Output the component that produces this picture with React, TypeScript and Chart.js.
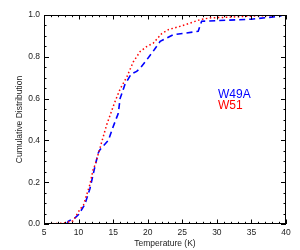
import React, { useEffect, useRef } from "react";
import { Chart, registerables } from "chart.js";

Chart.register(...registerables);

const w51Temp = [5.0, 6.5, 7.8, 9.2, 10.2, 10.7, 11.65, 12.1, 12.4, 13.1, 14.07, 15.2, 16.0, 17.0, 17.9, 18.9, 19.9, 20.8, 22.0, 23.0, 24.7, 26.0, 27.6, 29.0, 32.0, 35.0, 38.0, 40.0];
const w51Cum = [0.0, 0.002, 0.004, 0.015, 0.07, 0.09, 0.19, 0.26, 0.284, 0.364, 0.475, 0.58, 0.645, 0.705, 0.775, 0.825, 0.85, 0.865, 0.91, 0.93, 0.946, 0.96, 0.978, 0.986, 0.99, 0.995, 0.998, 1.0];

const w49aTemp = [8.3, 8.5, 9.5, 10.0, 10.9, 11.65, 12.4, 12.85, 13.1, 14.3, 15.0, 15.4, 15.75, 16.0, 16.7, 17.6, 18.4, 18.9, 19.85, 20.8, 21.8, 23.7, 25.6, 27.3, 27.8, 30.0, 35.0, 39.1, 39.5];
const w49aCum = [0.0, 0.013, 0.03, 0.045, 0.093, 0.17, 0.28, 0.34, 0.356, 0.40, 0.465, 0.50, 0.53, 0.60, 0.667, 0.717, 0.73, 0.745, 0.785, 0.827, 0.874, 0.906, 0.914, 0.922, 0.97, 0.973, 0.98, 0.994, 1.0];

const seriesNames = ["W49A", "W51"];
const xMin = 5;
const xMax = 40;
const xStep = 5;
const yMin = 0;
const yMax = 1;
const yStep = 0.2;

const FONT = '"Liberation Sans", Arial, sans-serif';

const framePlugin = {
  id: "frameTicks",
  afterDraw(chart: any) {
    const { ctx, chartArea } = chart;
    const { left, right, top, bottom } = chartArea;
    const xs = chart.scales.x;
    const ys = chart.scales.y;
    ctx.save();
    ctx.strokeStyle = "#000";
    ctx.lineWidth = 1;
    ctx.strokeRect(left + 0.5, top + 0.5, right - left - 1, bottom - top - 1);
    ctx.beginPath();
    for (let v = xMin; v <= xMax; v += 1) {
      const major = (v - xMin) % xStep === 0;
      const len = major ? 4.5 : 2.2;
      const px = Math.round(xs.getPixelForValue(v)) + 0.5;
      ctx.moveTo(px, bottom);
      ctx.lineTo(px, bottom - len);
      ctx.moveTo(px, top);
      ctx.lineTo(px, top + len);
    }
    for (let i = 0; i <= 20; i++) {
      const v = yMin + i * 0.05;
      const major = i % 4 === 0;
      const len = major ? 5 : 2.5;
      const py = Math.round(ys.getPixelForValue(v)) + 0.5;
      ctx.moveTo(left, py);
      ctx.lineTo(left + len, py);
      ctx.moveTo(right, py);
      ctx.lineTo(right - len, py);
    }
    ctx.stroke();

    ctx.font = `12px ${FONT}`;
    ctx.textBaseline = "alphabetic";
    ctx.textAlign = "left";
    ctx.fillStyle = "#0000ff";
    ctx.fillText(seriesNames[0], left + 174, top + 83);
    ctx.fillStyle = "#ff0000";
    ctx.fillText(seriesNames[1], left + 174, top + 94);
    ctx.restore();
  },
};

export default function App() {
  const ref = useRef<HTMLCanvasElement | null>(null);
  useEffect(() => {
    if (!ref.current) return;
    const chart = new Chart(ref.current, {
      type: "line",
      data: {
        datasets: [
          {
            label: seriesNames[1],
            data: w51Temp.map((t, i) => ({ x: t, y: w51Cum[i] })),
            borderColor: "#ff0000",
            borderWidth: 1.5,
            borderDash: [1.5, 2.5],
            pointRadius: 0,
            tension: 0,
            fill: false,
          },
          {
            label: seriesNames[0],
            data: w49aTemp.map((t, i) => ({ x: t, y: w49aCum[i] })),
            borderColor: "#0000ff",
            borderWidth: 1.6,
            borderDash: [6, 4],
            pointRadius: 0,
            tension: 0,
            fill: false,
          },
        ],
      },
      options: {
        animation: false,
        responsive: true,
        maintainAspectRatio: false,
        layout: { padding: { left: 0, right: 14, top: 15, bottom: 0 } },
        plugins: { legend: { display: false }, tooltip: { enabled: false } },
        scales: {
          x: {
            type: "linear",
            min: xMin,
            max: xMax,
            grid: { display: false, drawTicks: false },
            border: { display: false },
            ticks: {
              stepSize: xStep,
              padding: 4,
              color: "#222",
              font: { family: FONT, size: 8.5 },
              maxRotation: 0,
              callback: (v: any) => String(v),
            },
            title: {
              display: true,
              text: "Temperature (K)",
              color: "#222",
              font: { family: FONT, size: 8.5 },
              padding: { top: 0, bottom: 1.5 },
            },
            afterFit: (s: any) => {
              s.height = 26;
            },
          },
          y: {
            type: "linear",
            min: yMin,
            max: yMax,
            grid: { display: false, drawTicks: false },
            border: { display: false },
            ticks: {
              stepSize: yStep,
              padding: 4,
              color: "#222",
              font: { family: FONT, size: 8.5 },
              callback: (v: any) => Number(v).toFixed(1),
            },
            title: {
              display: true,
              text: "Cumulative Distribution",
              color: "#222",
              font: { family: FONT, size: 8.5 },
              padding: { top: 15, bottom: 0 },
            },
            afterFit: (s: any) => {
              s.width = 44;
            },
          },
        },
      },
      plugins: [framePlugin],
    });
    return () => chart.destroy();
  }, []);
  return (
    <div style={{ position: "fixed", left: 0, top: 0, width: 300, height: 250, background: "#fff" }}>
      <canvas ref={ref} />
    </div>
  );
}
